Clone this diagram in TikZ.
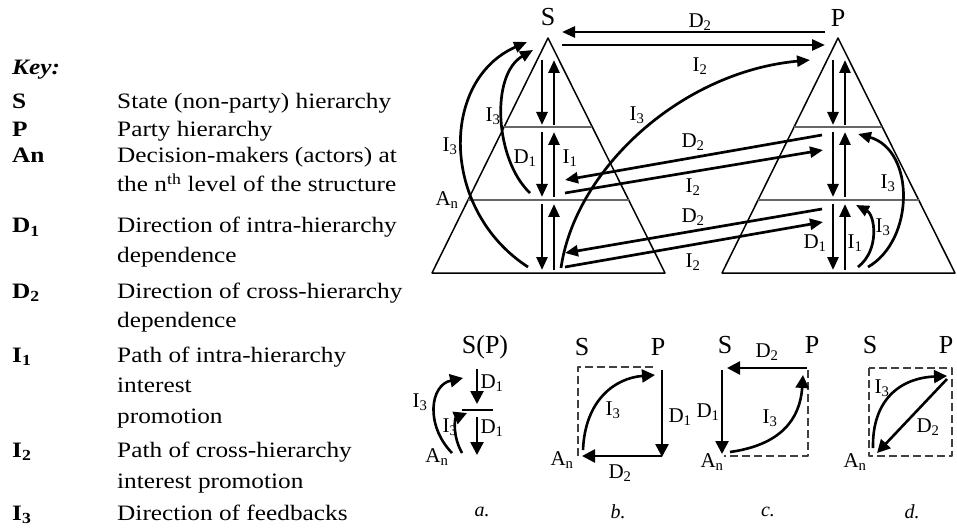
\documentclass[tikz,border=0pt]{standalone}
\usepackage{fontspec}
\setmainfont{Liberation Serif}
\newfontfamily\keyfont[FakeStretch=1.15]{Liberation Serif}
\usetikzlibrary{arrows.meta,calc}

\begin{document}
\begin{tikzpicture}[x=1pt,y=-1pt,line join=round]
\useasboundingbox[fill=white] (0,0) rectangle (957,529);
\tikzset{tribox/.style={draw,line width=1.5pt},lvline/.style={draw=black!60,line width=1.6pt},arw/.style={line width=2.7pt,-{Triangle[length=13pt,width=11pt]}},arwb/.style={line width=2.6pt,-{Triangle[length=13pt,width=13pt]}},dashbox/.style={draw=black!75,line width=1.4pt,dash pattern=on 8pt off 4pt},lbl/.style={inner sep=0pt,font=\fontsize{21}{21}\selectfont},bigl/.style={inner sep=0pt,font=\fontsize{26}{26}\selectfont},capl/.style={inner sep=0pt,font=\itshape\fontsize{20}{20}\selectfont},keysym/.style={anchor=base west,inner sep=0pt,font=\keyfont\bfseries\fontsize{22}{22}\selectfont},keytxt/.style={anchor=base west,inner sep=0pt,font=\keyfont\fontsize{22}{22}\selectfont}}
% key
\node[keysym,font=\keyfont\bfseries\itshape\fontsize{22}{22}\selectfont] (keyhd) at (12,75) {Key:};
\node[keysym] (kS) at (12,109) {S}; \node[keytxt] (tS) at (117,109) {State (non-party) hierarchy};
\node[keysym] (kP) at (12,137) {P}; \node[keytxt] (tP) at (117,137) {Party hierarchy};
\node[keysym] (kA) at (12,163) {An}; \node[keytxt] (tA) at (117,163) {Decision-makers (actors) at};
\node[keytxt] (tAb) at (117,192) {the n\textsuperscript{th} level of the structure};
\node[keysym] (kDa) at (12,233) {D\textsubscript{1}}; \node[keytxt] (tDa) at (117,233) {Direction of intra-hierarchy};
\node[keytxt] (tDab) at (117,262) {dependence};
\node[keysym] (kDb) at (12,298) {D\textsubscript{2}}; \node[keytxt] (tDb) at (117,298) {Direction of cross-hierarchy};
\node[keytxt] (tDbb) at (117,327) {dependence};
\node[keysym] (kIa) at (12,362) {I\textsubscript{1}}; \node[keytxt] (tIa) at (117,362) {Path of intra-hierarchy};
\node[keytxt] (tIab) at (117,392) {interest};
\node[keytxt] (tIac) at (117,423) {promotion};
\node[keysym] (kIb) at (12,457) {I\textsubscript{2}}; \node[keytxt] (tIb) at (117,457) {Path of cross-hierarchy};
\node[keytxt] (tIbb) at (117,488) {interest promotion};
\node[keysym] (kIc) at (12,520) {I\textsubscript{3}}; \node[keytxt] (tIc) at (117,520) {Direction of feedbacks};
% the two hierarchies
\coordinate (sTop) at (548,38); \coordinate (sBL) at (432,273); \coordinate (sBR) at (665,273);
\coordinate (pTop) at (838,38); \coordinate (pBL) at (722,273); \coordinate (pBR) at (955,273);
\draw[tribox] (sTop) -- (sBL) -- (sBR) -- cycle;
\draw[tribox] (pTop) -- (pBL) -- (pBR) -- cycle;
\foreach \f in {0.379,0.689} {
  \draw[lvline] ($(sTop)!\f!(sBL)$) -- ($(sTop)!\f!(sBR)$);
  \draw[lvline] ($(pTop)!\f!(pBL)$) -- ($(pTop)!\f!(pBR)$);
}
\node[bigl] (sLab) at (548,17) {S};
\node[bigl] (pLab) at (838,18) {P};
\foreach \ya/\yb in {60/125,132/197,204/270} {
  \draw[arw] (542,\ya) -- (542,\yb); \draw[arw] (554,\yb) -- (554,\ya);
  \draw[arw] (833,\ya) -- (833,\yb); \draw[arw] (845,\yb) -- (845,\ya);
}
% cross-hierarchy arrows
\draw[arw] (825,32) -- (562,32);
\draw[arw] (562,45) -- (825,45);
\draw[arw] (822,135) -- (565,180);
\draw[arw] (565,193) -- (823,150);
\draw[arw] (822,209) -- (565,253);
\draw[arw] (565,267) -- (823,222);
\node[lbl] (dTop) at (700,22) {D\textsubscript{2}};
\node[lbl] (iTop) at (700,66) {I\textsubscript{2}};
\node[lbl] (dMid) at (693,142) {D\textsubscript{2}};
\node[lbl] (iMid) at (693,187) {I\textsubscript{2}};
\node[lbl] (dLow) at (693,217) {D\textsubscript{2}};
\node[lbl] (iLow) at (693,262) {I\textsubscript{2}};
% feedbacks
\draw[arw] (561,268) .. controls (575,170) and (680,72) .. (810,60);
\draw[arw] (528,267) .. controls (440,210) and (440,80) .. (527,42);
\draw[arw] (530,193) .. controls (495,160) and (490,75) .. (533,50);
\draw[arw] (858,267) .. controls (880,250) and (875,215) .. (856,205);
\draw[arw] (868,267) .. controls (915,240) and (915,150) .. (858,134);
\node[lbl] (iCross) at (637,115) {I\textsubscript{3}};
\node[lbl] (iOut) at (450,146) {I\textsubscript{3}};
\node[lbl] (iIn) at (493,116) {I\textsubscript{3}};
\node[lbl] (dS) at (525,158) {D\textsubscript{1}};
\node[lbl] (iS) at (570,158) {I\textsubscript{1}};
\node[lbl] (anTop) at (447,200) {A\textsubscript{n}};
\node[lbl] (dP) at (815,243) {D\textsubscript{1}};
\node[lbl] (iP) at (855,243) {I\textsubscript{1}};
\node[lbl] (iPa) at (883,227) {I\textsubscript{3}};
\node[lbl] (iPb) at (888,183) {I\textsubscript{3}};
% a.
\node[bigl] (aHead) at (485,347) {S(P)};
\draw[arwb] (477,369) -- (477,404);
\draw[line width=1.6pt] (462,410) -- (493,410);
\draw[arwb] (477,417) -- (477,455);
\draw[arwb] (452,453) .. controls (425,425) and (430,385) .. (463,378);
\draw[arwb] (462,453) .. controls (452,435) and (455,418) .. (467,413);
\node[lbl] (aD1) at (492,383) {D\textsubscript{1}};
\node[lbl] (aD2) at (492,428) {D\textsubscript{1}};
\node[lbl] (aI1) at (420,402) {I\textsubscript{3}};
\node[lbl] (aI2) at (450,427) {I\textsubscript{3}};
\node[lbl] (aAn) at (437,457) {A\textsubscript{n}};
\node[capl] (aCap) at (482,512) {a.};
% b.
\node[bigl] (bS) at (582,347) {S};
\node[bigl] (bP) at (658,347) {P};
\draw[dashbox] (578,456) -- (578,367) -- (655,367);
\draw[arwb] (662,370) -- (662,457);
\draw[arwb] (662,456) -- (582,456);
\draw[arwb] (583,450) .. controls (585,400) and (615,378) .. (655,375);
\node[lbl] (bD1) at (680,417) {D\textsubscript{1}};
\node[lbl] (bD2) at (620,473) {D\textsubscript{2}};
\node[lbl] (bI3) at (613,410) {I\textsubscript{3}};
\node[lbl] (bAn) at (562,460) {A\textsubscript{n}};
\node[capl] (bCap) at (618,512) {b.};
% c.
\node[bigl] (cS) at (725,345) {S};
\node[bigl] (cP) at (812,345) {P};
\draw[dashbox] (808,370) -- (808,456) -- (724,456);
\draw[arwb] (807,368) -- (727,368);
\draw[arwb] (722,370) -- (722,454);
\draw[arwb] (730,452) .. controls (780,445) and (800,420) .. (803,375);
\node[lbl] (cD2) at (767,352) {D\textsubscript{2}};
\node[lbl] (cD1) at (708,412) {D\textsubscript{1}};
\node[lbl] (cI3) at (770,418) {I\textsubscript{3}};
\node[lbl] (cAn) at (712,462) {A\textsubscript{n}};
\node[capl] (cCap) at (768,512) {c.};
% d.
\node[bigl] (dS) at (870,345) {S};
\node[bigl] (dP) at (946,345) {P};
\draw[dashbox] (869,368) rectangle (952,456);
\draw[arwb] (947,379) -- (877,453);
\draw[arwb] (873,448) .. controls (872,400) and (900,378) .. (947,376);
\node[lbl] (dD2) at (928,427) {D\textsubscript{2}};
\node[lbl] (dI3) at (882,388) {I\textsubscript{3}};
\node[lbl] (dAn) at (855,462) {A\textsubscript{n}};
\node[capl] (dCap) at (912,512) {d.};
\end{tikzpicture}
\end{document}
